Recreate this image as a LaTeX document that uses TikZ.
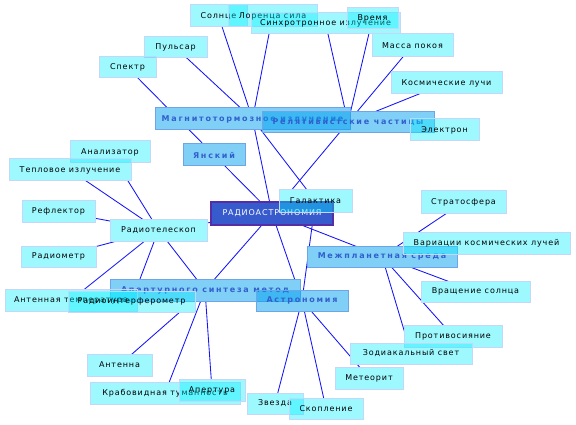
\documentclass[tikz,border=0pt]{standalone}
\usepackage{fontspec}
\setmainfont{DejaVu Sans}
\newfontfamily\leaffont[LetterSpace=11]{DejaVu Sans}
\newfontfamily\topicfont[LetterSpace=22]{DejaVu Sans}
\definecolor{leaffill}{RGB}{0,240,255}
\definecolor{leafborder}{RGB}{195,215,250}
\definecolor{topicfill}{RGB}{0,160,240}
\definecolor{topicborder}{RGB}{110,165,230}
\definecolor{topictext}{RGB}{50,95,205}
\definecolor{hubfill}{RGB}{55,90,205}
\definecolor{hubborder}{RGB}{85,45,165}
\definecolor{linkblue}{RGB}{20,20,250}
\pgfdeclarelayer{background}
\pgfdeclarelayer{backing}
\pgfsetlayers{background,backing,main}
\tikzset{
  box/.style={rectangle, inner sep=0pt, line width=1pt},
  leaf/.style={box, fill=leaffill, fill opacity=0.38, text opacity=1, draw=leafborder, draw opacity=1,
    font=\leaffont\fontsize{8}{9}\selectfont, text=black},
  topic/.style={box, fill=topicfill, fill opacity=0.5, text opacity=1, draw=topicborder, draw opacity=1,
    font=\topicfont\bfseries\fontsize{8}{9}\selectfont, text=topictext},
  hub/.style={box, fill=hubfill, draw=hubborder, line width=1.2pt,
    font=\leaffont\fontsize{8}{9}\selectfont, text=white},
  link/.style={draw=linkblue, line width=0.85pt}
}
\begin{document}
\begin{tikzpicture}[x=1pt,y=-1pt]
\useasboundingbox (0,0) rectangle (576,425);
% hub
\node[hub, minimum width=122pt, minimum height=23pt] (hub) at (272,213.5) {РАДИОАСТРОНОМИЯ};
% topics
\node[topic, minimum width=195pt, minimum height=22pt] (magnit) at (252.5,119) {Магнитотормозное излучение};
\node[topic, minimum width=172pt, minimum height=21pt] (relyat) at (348,122.5) {Релятивистские частицы};
\node[topic, minimum width=62pt, minimum height=22pt] (yanskiy) at (214,155) {Янский};
\node[topic, minimum width=150pt, minimum height=21pt] (mezhpl) at (382,256.5) {Межпланетная среда};
\node[topic, minimum width=190pt, minimum height=22pt] (apert) at (205,290) {Апертурного синтеза метод};
\node[topic, minimum width=92pt, minimum height=21pt] (astron) at (302,300.5) {Астрономия};
% leaves
\node[leaf, minimum width=57pt, minimum height=22pt] (solnce) at (218.5,16) {Солнце};
\node[leaf, minimum width=89pt, minimum height=22pt] (lorentz) at (272.5,16) {Лоренца сила};
\node[leaf, minimum width=149pt, minimum height=21pt] (sinhr) at (325.5,23) {Синхротронное излучение};
\node[leaf, minimum width=51pt, minimum height=21pt] (vremya) at (372.5,18.5) {Время};
\node[leaf, minimum width=81pt, minimum height=23pt] (massa) at (412.5,45.5) {Масса покоя};
\node[leaf, minimum width=111pt, minimum height=22pt] (kosm) at (446.5,83) {Космические лучи};
\node[leaf, minimum width=69pt, minimum height=22pt] (elektron) at (444.5,130) {Электрон};
\node[leaf, minimum width=63pt, minimum height=21pt] (pulsar) at (175.5,47.5) {Пульсар};
\node[leaf, minimum width=57pt, minimum height=21pt] (spektr) at (127.5,67.5) {Спектр};
\node[leaf, minimum width=80pt, minimum height=22pt] (analiz) at (110,152) {Анализатор};
\node[leaf, minimum width=122pt, minimum height=22pt] (teplo) at (70,170) {Тепловое излучение};
\node[leaf, minimum width=73pt, minimum height=21pt] (reflektor) at (58.5,211.5) {Рефлектор};
\node[leaf, minimum width=97pt, minimum height=22pt] (radtel) at (158.5,230) {Радиотелескоп};
\node[leaf, minimum width=73pt, minimum height=22pt] (galakt) at (315.5,201) {Галактика};
\node[leaf, minimum width=85pt, minimum height=22pt] (strato) at (463.5,202) {Стратосфера};
\node[leaf, minimum width=167pt, minimum height=22pt] (variac) at (486.5,243) {Вариации космических лучей};
\node[leaf, minimum width=109pt, minimum height=21pt] (vrashch) at (475.5,291.5) {Вращение солнца};
\node[leaf, minimum width=75pt, minimum height=21pt] (radiometr) at (58.5,256.5) {Радиометр};
\node[leaf, minimum width=132pt, minimum height=22pt] (antemp) at (71,300) {Антенная температура};
\node[leaf, minimum width=127pt, minimum height=21pt] (radinterf) at (131.5,301.5) {Радиоинтерферометр};
\node[leaf, minimum width=98pt, minimum height=22pt] (protiv) at (453,336) {Противосияние};
\node[leaf, minimum width=122pt, minimum height=21pt] (zodiak) at (411,353.5) {Зодиакальный свет};
\node[leaf, minimum width=68pt, minimum height=22pt] (meteorit) at (369,378) {Метеорит};
\node[leaf, minimum width=65pt, minimum height=22pt] (antenna) at (119.5,365) {Антенна};
\node[leaf, minimum width=150pt, minimum height=22pt] (krab) at (165,393) {Крабовидная туманность};
\node[leaf, minimum width=66pt, minimum height=22pt] (apertura) at (212,390) {Апертура};
\node[leaf, minimum width=56pt, minimum height=21pt] (zvezda) at (275,403.5) {Звезда};
\node[leaf, minimum width=74pt, minimum height=21pt] (skoplen) at (326,408.5) {Скопление};
% opaque white backing under every box, so links stay hidden beneath them
\begin{pgfonlayer}{backing}
\foreach \n in {hub,magnit,relyat,yanskiy,mezhpl,apert,astron,solnce,lorentz,sinhr,vremya,massa,kosm,
  elektron,pulsar,spektr,analiz,teplo,reflektor,radtel,galakt,strato,variac,vrashch,radiometr,antemp,
  radinterf,protiv,zodiak,meteorit,antenna,krab,apertura,zvezda,skoplen}
  \fill[white] (\n.south west) rectangle (\n.north east);
\end{pgfonlayer}
% links
\begin{pgfonlayer}{background}
\fill[white] (0,0) rectangle (576,425);
\foreach \a/\b in {magnit/solnce, magnit/lorentz, magnit/pulsar, magnit/hub, magnit/galakt,
  relyat/sinhr, relyat/vremya, relyat/massa, relyat/kosm, relyat/elektron, relyat/hub,
  yanskiy/spektr, yanskiy/hub,
  radtel/analiz, radtel/teplo, radtel/reflektor, radtel/radiometr, radtel/antemp, radtel/radinterf, radtel/hub, radtel/apert,
  apert/antenna, apert/krab, apert/apertura, apert/hub,
  astron/zvezda, astron/skoplen, astron/meteorit, astron/hub, astron/galakt,
  mezhpl/strato, mezhpl/variac, mezhpl/vrashch, mezhpl/protiv, mezhpl/zodiak, mezhpl/hub}
  \draw[link] (\a.center) -- (\b.center);
\end{pgfonlayer}
\end{tikzpicture}
\end{document}
